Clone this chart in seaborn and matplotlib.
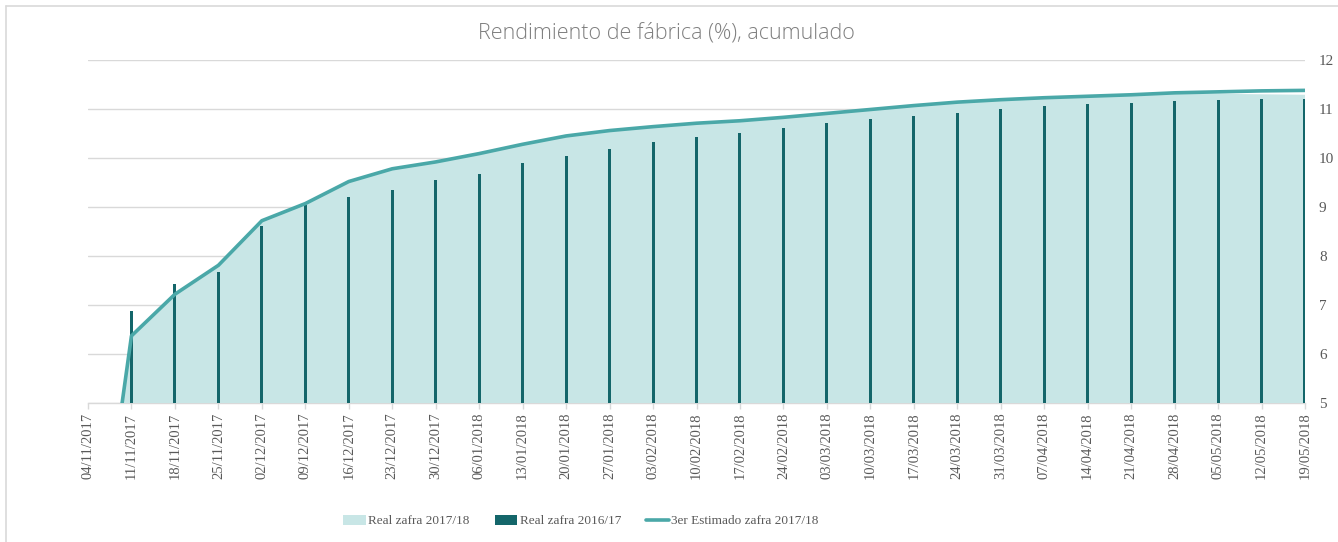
import numpy as np
import pandas as pd
import seaborn as sns
import matplotlib.pyplot as plt
from matplotlib.patches import Patch
from matplotlib.lines import Line2D

# ---------------- data ----------------
dates = ["04/11/2017", "11/11/2017", "18/11/2017", "25/11/2017", "02/12/2017",
         "09/12/2017", "16/12/2017", "23/12/2017", "30/12/2017", "06/01/2018",
         "13/01/2018", "20/01/2018", "27/01/2018", "03/02/2018", "10/02/2018",
         "17/02/2018", "24/02/2018", "03/03/2018", "10/03/2018", "17/03/2018",
         "24/03/2018", "31/03/2018", "07/04/2018", "14/04/2018", "21/04/2018",
         "28/04/2018", "05/05/2018", "12/05/2018", "19/05/2018"]

estimado_1718 = [0.0, 6.37, 7.22, 7.81, 8.72, 9.07, 9.52, 9.78, 9.92, 10.09,
                 10.28, 10.45, 10.56, 10.64, 10.71, 10.76, 10.83, 10.91, 10.99, 11.07,
                 11.14, 11.19, 11.23, 11.26, 11.29, 11.33, 11.35, 11.37, 11.38]

real_1718 = [0.0, 6.37, 7.22, 7.81, 8.72, 9.07, 9.52, 9.78, 9.92, 10.09,
             10.28, 10.45, 10.56, 10.64, 10.71, 10.76, 10.83, 10.91, 10.99, 11.07,
             11.14, 11.19, 11.23, 11.26, 11.29, 11.31, 11.31, 11.30, 11.29]

real_1617 = [0.0, 6.87, 7.42, 7.67, 8.61, 9.04, 9.20, 9.34, 9.56, 9.68,
             9.90, 10.04, 10.18, 10.32, 10.42, 10.52, 10.62, 10.71, 10.79, 10.86,
             10.92, 11.00, 11.06, 11.10, 11.12, 11.16, 11.18, 11.20, 11.20]

y_ticks = [5, 6, 7, 8, 9, 10, 11, 12]
title = "Rendimiento de fábrica (%), acumulado"
labels = ["Real zafra 2017/18", "Real zafra 2016/17", "3er Estimado zafra 2017/18"]

# ---------------- style ----------------
AREA = "#C8E6E6"
DARK = "#14666A"
LINE = "#4AA8A8"
GRID = "#D9D9D9"
TXT = "#595959"

sns.set_theme(style="white")
plt.rcParams['font.family'] = ['Liberation Serif', 'DejaVu Serif']

df = pd.DataFrame({"pos": np.arange(len(dates)), "date": dates,
                   "estimado": estimado_1718, "real1718": real_1718,
                   "real1617": real_1617})

fig = plt.figure(figsize=(13.38, 5.42), dpi=100)
ax = fig.add_axes([88 / 1338, 1 - 403 / 542, (1305 - 88) / 1338, (403 - 60) / 542])

ax.fill_between(df["pos"], df["real1718"], 0, color=AREA, lw=0, zorder=1)
sns.barplot(data=df, x="pos", y="real1617", native_scale=True, width=0.07,
            color=DARK, saturation=1, linewidth=0, ax=ax, zorder=2)
sns.lineplot(data=df, x="pos", y="estimado", color=LINE, lw=2.6, ax=ax, zorder=3)

ax.set_xlim(0, len(dates) - 1)
ax.set_ylim(y_ticks[0], y_ticks[-1])
ax.set_yticks(y_ticks)
ax.yaxis.tick_right()
ax.tick_params(axis="y", length=0, pad=10, labelsize=11, labelcolor=TXT)
ax.set_xticks(df["pos"])
ax.set_xticklabels(dates, rotation=90)
ax.tick_params(axis="x", length=4, width=1, color=GRID, pad=3, labelsize=10.5,
               labelcolor=TXT, bottom=True)
ax.set_xlabel("")
ax.set_ylabel("")
ax.grid(axis="y", color=GRID, lw=1)
ax.grid(axis="x", visible=False)
ax.set_axisbelow(True)
for s in ["top", "left", "right"]:
    ax.spines[s].set_visible(False)
ax.spines["bottom"].set_color(GRID)
ax.spines["bottom"].set_linewidth(1)
ax.spines["bottom"].set_zorder(0.5)

fig.text(666 / 1338, 1 - 33 / 542, title, ha="center", va="center",
         fontsize=15.5, color="#7F7F7F", family=["Open Sans", "DejaVu Sans"],
         fontweight="light")

handles = [Patch(facecolor=AREA, edgecolor="none"),
           Patch(facecolor=DARK, edgecolor="none"),
           Line2D([], [], color=LINE, lw=2.6)]
fig.legend(handles, labels, loc="center", bbox_to_anchor=(581 / 1338, 1 - 521 / 542),
           ncol=3, frameon=False, fontsize=9.5, labelcolor=TXT, handlelength=1.7,
           handleheight=0.8, handletextpad=0.2, columnspacing=1.9)

# chart border
fig.add_artist(Line2D([6 / 1338, 6 / 1338], [0, 1 - 6 / 542], transform=fig.transFigure,
                      color=GRID, lw=1.2))
fig.add_artist(Line2D([6 / 1338, 1], [1 - 6 / 542, 1 - 6 / 542], transform=fig.transFigure,
                      color=GRID, lw=1.2))

fig.savefig("out.png", dpi=100, facecolor="white")
